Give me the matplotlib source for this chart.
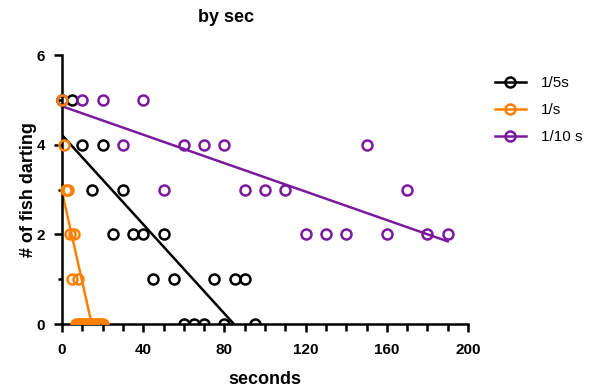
import numpy as np
import matplotlib
matplotlib.use('Agg')
from matplotlib import pyplot as plt
from matplotlib.lines import Line2D
from matplotlib.patches import Rectangle

plt.rcParams['font.family'] = ['Liberation Sans', 'DejaVu Sans']

# fish darting counts per rate
fifth_x = [0, 5, 10, 20, 15, 30, 25, 35, 40, 50, 45, 55, 75, 85, 90, 60, 65, 70, 80, 95]
fifth_y = [5, 5, 4, 4, 3, 3, 2, 2, 2, 2, 1, 1, 1, 1, 1, 0, 0, 0, 0, 0]

sec_x = [0, 1, 2, 3, 4, 6, 5, 8, 7, 8, 9, 10, 11, 12, 13, 14, 15, 16, 17, 18, 19, 20]
sec_y = [5, 4, 3, 3, 2, 2, 1, 1, 0, 0, 0, 0, 0, 0, 0, 0, 0, 0, 0, 0, 0, 0]

tenth_x = [0, 10, 20, 40, 30, 60, 70, 80, 150, 50, 90, 100, 110, 170, 120, 130, 140, 160, 180, 190]
tenth_y = [5, 5, 5, 5, 4, 4, 4, 4, 4, 3, 3, 3, 3, 3, 2, 2, 2, 2, 2, 2]

labels = ['1/5s', '1/s', '1/10 s']
colors = ['black', '#FF8000', '#7B1A9E']

x_ticks = [0, 40, 80, 120, 160, 200]
y_ticks = [0, 2, 4, 6]

fig = plt.figure(figsize=(6.07, 3.91), dpi=100)
ax = fig.add_axes([62 / 607, 67 / 391, 406 / 607, 269 / 391])

series = [(fifth_x, fifth_y), (sec_x, sec_y), (tenth_x, tenth_y)]
# orange drawn on top of the others
marker_z = [3, 5, 4]
clip = Rectangle((-0.1, 0), 1.3, 1.2, transform=ax.transAxes, visible=False)
ax.add_patch(clip)

for (xs, ys), c, z in zip(series, colors, marker_z):
    xs = np.array(xs, dtype=float)
    ys = np.array(ys, dtype=float)
    m, b = np.polyfit(xs, ys, 1)
    fx = np.array([xs.min(), xs.max()])
    ax.plot(fx, m * fx + b, color=c, lw=1.8, zorder=2)
    pts, = ax.plot(xs, ys, 'o', mfc='none', mec=c, ms=7.2, mew=1.8, zorder=z)
    pts.set_clip_path(clip)

ax.set_xlim(0, 200)
ax.set_ylim(0, 6)
ax.set_xticks(x_ticks)
ax.set_xticks(np.arange(0, 201, 10), minor=True)
ax.set_yticks(y_ticks)
ax.set_yticks([1, 3, 5], minor=True)

for s in ['top', 'right']:
    ax.spines[s].set_visible(False)
for s in ['left', 'bottom']:
    ax.spines[s].set_linewidth(1.8)

ax.tick_params(which='major', length=6, width=1.8, labelsize=11)
ax.tick_params(axis='x', which='major', pad=8)
ax.tick_params(axis='y', which='major', pad=6)
ax.tick_params(axis='x', which='minor', length=5, width=1.8)
ax.tick_params(axis='y', which='minor', length=3, width=1.8)
for t in ax.get_xticklabels() + ax.get_yticklabels():
    t.set_fontweight('bold')

ax.set_xlabel('seconds', fontsize=13, fontweight='bold', labelpad=10)
ax.set_ylabel('# of fish darting', fontsize=13, fontweight='bold', labelpad=0)
fig.text(226 / 607, 1 - 17 / 391, 'by sec', fontsize=13, fontweight='bold',
         ha='center', va='center')

handles = [Line2D([], [], color=c, lw=1.8, marker='o', mfc='none', ms=7.2, mew=1.8)
           for c in colors]
fig.legend(handles, labels, loc='upper left', bbox_to_anchor=(495 / 607, 1 - 76 / 391),
           frameon=False, fontsize=11, handlelength=2.0, handletextpad=1.0,
           labelspacing=0.85, borderpad=0, borderaxespad=0)

fig.savefig('out.png', dpi=100)
